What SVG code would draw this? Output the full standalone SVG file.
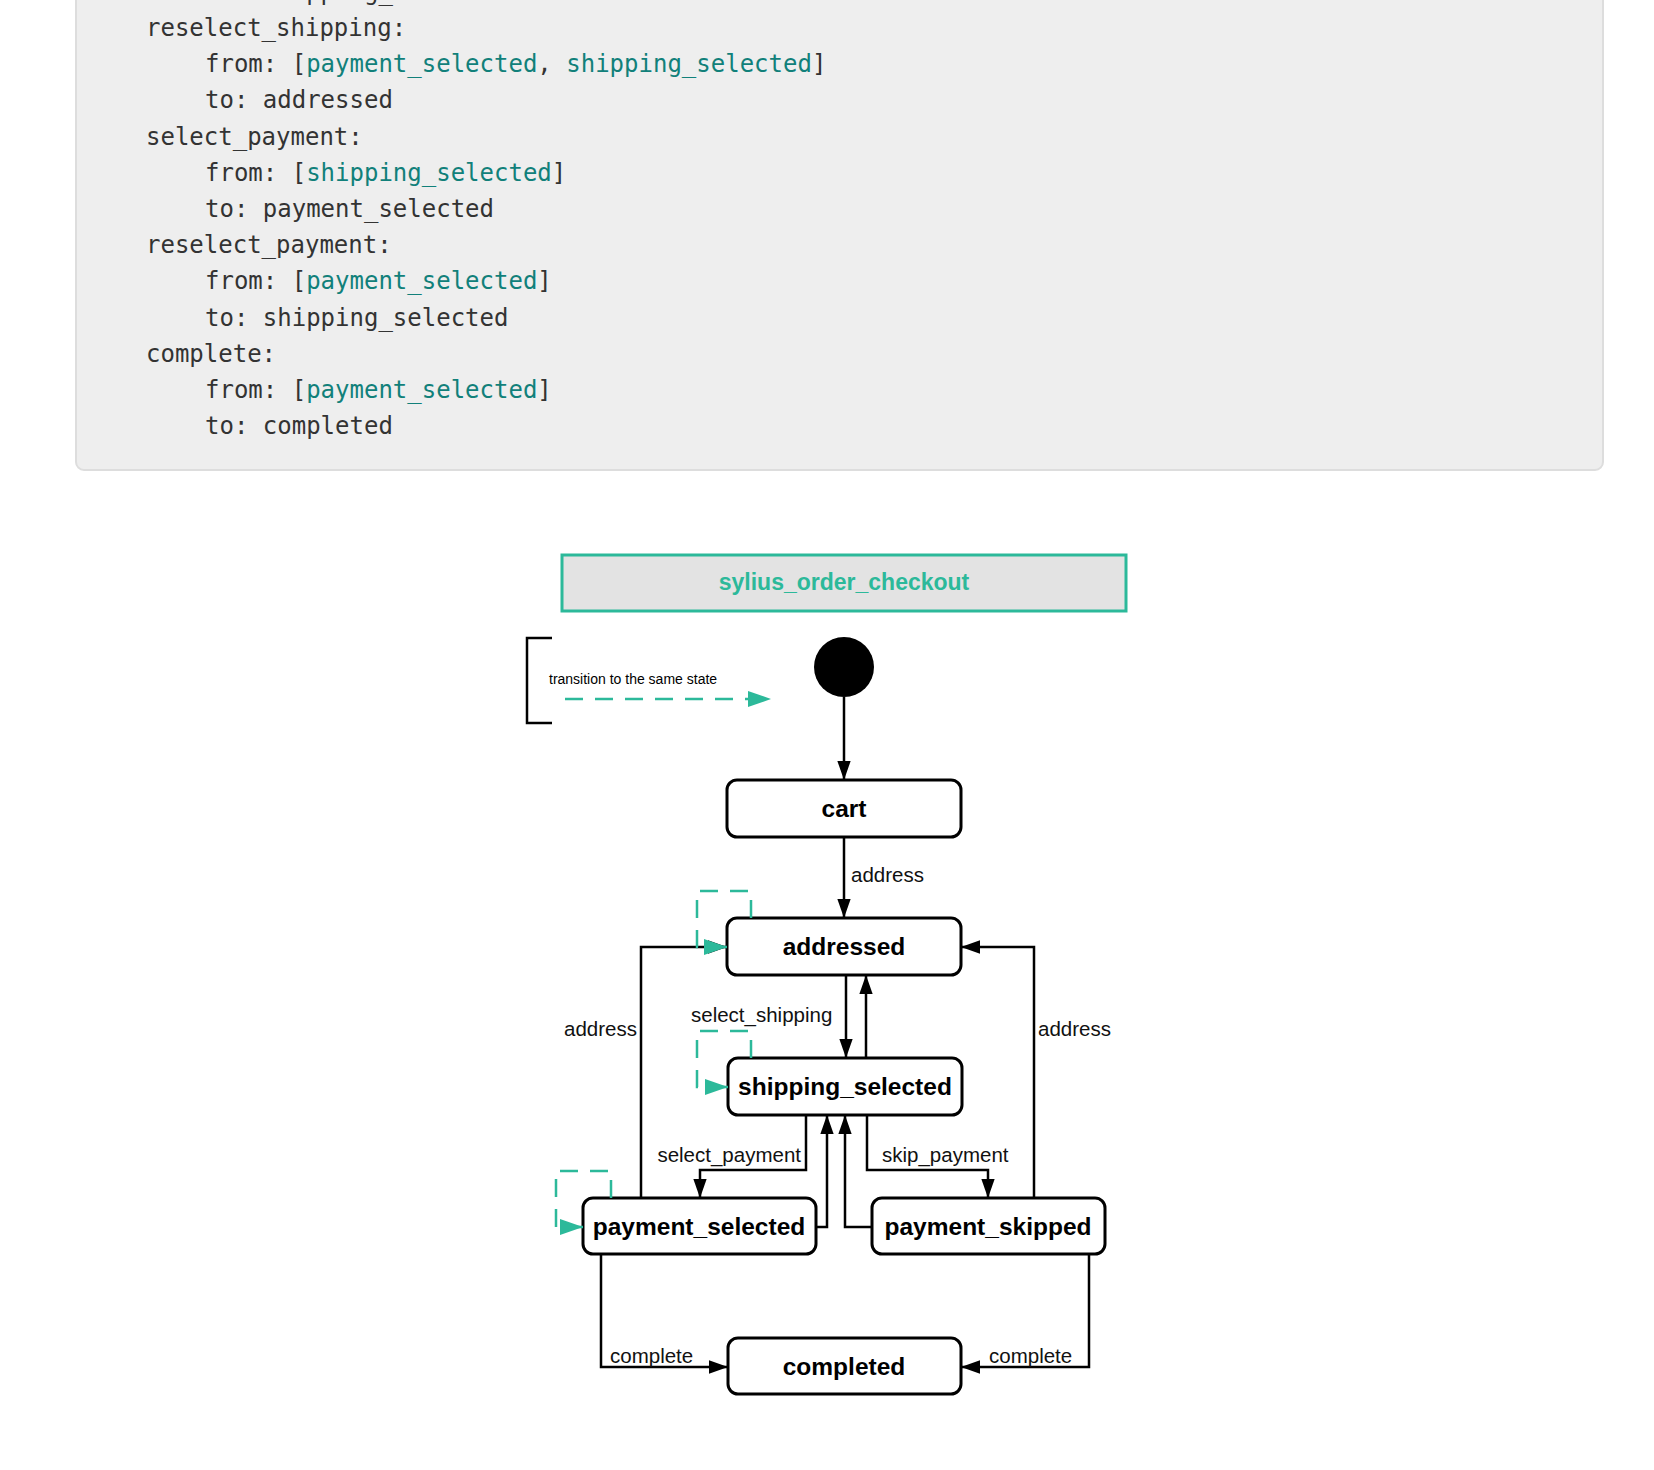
<svg xmlns="http://www.w3.org/2000/svg" width="1654" height="1470" viewBox="0 0 1654 1470">
<defs>
<style>
.code{font-family:"DejaVu Sans Mono","Liberation Mono",monospace;font-size:24px;fill:#333}
.k{fill:#11807a}
.node rect{fill:#fff;stroke:#000;stroke-width:3}
.node text{font-family:"Liberation Sans",Arial,sans-serif;font-weight:bold;font-size:24.5px;text-anchor:middle;fill:#000}
.lbl{font-family:"Liberation Sans",Arial,sans-serif;font-size:20.5px;fill:#111}
.e{fill:none;stroke:#000;stroke-width:2.5}
.s{fill:none;stroke:#2cb99a;stroke-width:2.5;stroke-dasharray:18,12}
</style>
<marker id="a" viewBox="0 0 10 10" refX="10" refY="5" markerWidth="19" markerHeight="19" markerUnits="userSpaceOnUse" orient="auto"><path d="M0,1.5L10,5L0,8.5z" fill="#000"/></marker>
<marker id="t" viewBox="0 0 10 10" refX="10" refY="5" markerWidth="23" markerHeight="23" markerUnits="userSpaceOnUse" orient="auto"><path d="M0,1.5L10,5L0,8.5z" fill="#2cb99a"/></marker>
</defs>
<rect width="1654" height="1470" fill="#fff"/>
<rect x="76" y="-20" width="1527" height="490" rx="8" fill="#eee" stroke="#ddd" stroke-width="2"/>
<g class="code">
<text x="205" y="0">to: shipping_selected</text>
<text x="146" y="36">reselect_shipping:</text>
<text x="205" y="72">from: [<tspan class="k">payment_selected</tspan>, <tspan class="k">shipping_selected</tspan>]</text>
<text x="205" y="108">to: addressed</text>
<text x="146" y="145">select_payment:</text>
<text x="205" y="181">from: [<tspan class="k">shipping_selected</tspan>]</text>
<text x="205" y="217">to: payment_selected</text>
<text x="146" y="253">reselect_payment:</text>
<text x="205" y="289">from: [<tspan class="k">payment_selected</tspan>]</text>
<text x="205" y="326">to: shipping_selected</text>
<text x="146" y="362">complete:</text>
<text x="205" y="398">from: [<tspan class="k">payment_selected</tspan>]</text>
<text x="205" y="434">to: completed</text>
</g>
<g transform="translate(-3,-4)">
<g id="title"><rect x="565" y="559" width="564" height="56" fill="#e3e3e3" stroke="#2cb99a" stroke-width="3"/>
<text x="847" y="594" text-anchor="middle" font-family="Liberation Sans,Arial,sans-serif" font-weight="bold" font-size="23" fill="#2cb99a">sylius_order_checkout</text></g>
<g id="legend"><path d="M555,642H530V727H555" fill="none" stroke="#000" stroke-width="2.5"/>
<text x="552" y="688" font-family="Liberation Sans,Arial,sans-serif" font-size="14" fill="#000">transition to the same state</text>
<path d="M568,703H774" class="s" marker-end="url(#t)"/></g>
<g id="initial"><circle cx="847" cy="671" r="30" fill="#000"/></g>
<g id="cart" class="node"><rect x="730" y="784" width="234" height="57" rx="10"/><text x="847" y="821">cart</text></g>
<g id="addressed" class="node"><rect x="730" y="922" width="234" height="57" rx="10"/><text x="847" y="959">addressed</text></g>
<g id="shipping_selected" class="node"><rect x="731" y="1062" width="234" height="57" rx="10"/><text x="848" y="1099">shipping_selected</text></g>
<g id="payment_selected" class="node"><rect x="586" y="1202" width="233" height="56" rx="10"/><text x="702" y="1239">payment_selected</text></g>
<g id="payment_skipped" class="node"><rect x="875" y="1202" width="233" height="56" rx="10"/><text x="991" y="1239">payment_skipped</text></g>
<g id="completed" class="node"><rect x="731" y="1342" width="233" height="56" rx="10"/><text x="847" y="1379">completed</text></g>
<g id="connectors">
<path class="e" d="M847,701V784" marker-end="url(#a)"/>
<path class="e" d="M847,841V922" marker-end="url(#a)"/>
<path class="e" d="M849,979V1062" marker-end="url(#a)"/>
<path class="e" d="M869,1062V979" marker-end="url(#a)"/>
<path class="e" d="M644,1202V951H730" marker-end="url(#a)"/>
<path class="e" d="M1037,1202V951H964" marker-end="url(#a)"/>
<path class="e" d="M809,1119V1174H703V1202" marker-end="url(#a)"/>
<path class="e" d="M870,1119V1174H991V1202" marker-end="url(#a)"/>
<path class="e" d="M819,1231H830V1119" marker-end="url(#a)"/>
<path class="e" d="M875,1231H848V1119" marker-end="url(#a)"/>
<path class="e" d="M604,1258V1371H731" marker-end="url(#a)"/>
<path class="e" d="M1092,1258V1371H964" marker-end="url(#a)"/>
<path class="s" d="M754,922V895H700V951H730" marker-end="url(#t)"/>
<path class="s" d="M754,1062V1035H700V1091H731" marker-end="url(#t)"/>
<path class="s" d="M614,1202V1175H559V1231H586" marker-end="url(#t)"/>
<text class="lbl" x="854" y="886">address</text>
<text class="lbl" x="640" y="1040" text-anchor="end">address</text>
<text class="lbl" x="1041" y="1040">address</text>
<text class="lbl" x="694" y="1026">select_shipping</text>
<text class="lbl" x="804" y="1166" text-anchor="end">select_payment</text>
<text class="lbl" x="885" y="1166">skip_payment</text>
<text class="lbl" x="613" y="1367">complete</text>
<text class="lbl" x="992" y="1367">complete</text>
</g>
</g>
</svg>
